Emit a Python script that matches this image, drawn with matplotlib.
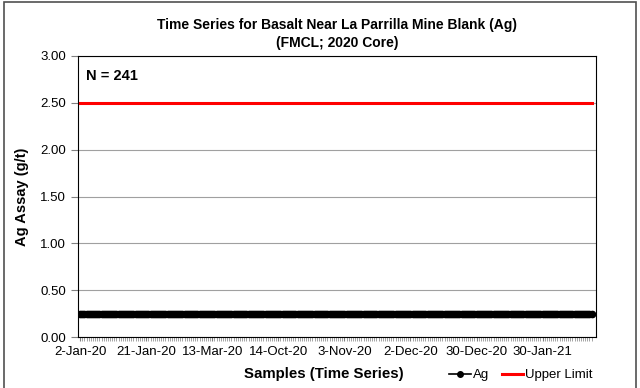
import matplotlib.pyplot as plt
from matplotlib.patches import Rectangle

plt.rcParams['font.family'] = ['Liberation Sans', 'DejaVu Sans']

n_samples = 241
ag_values = [0.25] * n_samples
upper_limit = 2.50
tick_labels = ["2-Jan-20", "21-Jan-20", "13-Mar-20", "14-Oct-20", "3-Nov-20",
               "2-Dec-20", "30-Dec-20", "30-Jan-21"]
tick_step = 31

sample_idx = list(range(n_samples))

fig = plt.figure(figsize=(6.4, 3.88), dpi=100)
ax = fig.add_axes([0.122, 0.131, 0.809, 0.725])

ax.plot(sample_idx, ag_values, color='black', lw=3.5, marker='o', ms=4.5, label='Ag', zorder=3)
ax.plot(sample_idx, [upper_limit] * n_samples, color='#ff0000', lw=2.2, label='Upper Limit', zorder=3)

ax.set_ylim(0, 3.0)
ax.set_yticks([0, 0.5, 1.0, 1.5, 2.0, 2.5, 3.0])
ax.set_yticklabels(["%.2f" % v for v in ax.get_yticks()], fontsize=9.5)
ax.yaxis.grid(True, color='#a0a0a0', lw=0.8)
ax.set_axisbelow(True)
ax.tick_params(axis='y', length=5, color='#808080', direction='out')

ax.set_xlim(-1, n_samples + 1)
ax.set_xticks(sample_idx[::tick_step][:len(tick_labels)])
ax.set_xticklabels(tick_labels, fontsize=9.5)
ax.set_xticks(sample_idx, minor=True)
ax.tick_params(axis='x', which='major', length=3, color='#808080', pad=3)
ax.tick_params(axis='x', which='minor', length=3, color='#808080', width=0.5)

for s in ax.spines.values():
    s.set_color('black')
    s.set_linewidth(0.8)

ax.text(0.015, 0.955, "N = 241", transform=ax.transAxes, fontsize=10.5, fontweight='bold', va='top')
ax.set_ylabel("Ag Assay (g/t)", fontsize=10.5, fontweight='bold', labelpad=8)

fig.text(0.527, 0.913, "Time Series for Basalt Near La Parrilla Mine Blank (Ag)\n(FMCL; 2020 Core)",
         ha='center', va='center', fontsize=10, fontweight='bold', linespacing=1.35)
fig.text(0.506, 0.035, "Samples (Time Series)", ha='center', va='center', fontsize=10.8, fontweight='bold')

leg = fig.legend(loc='center', bbox_to_anchor=(0.814, 0.033), ncol=2, frameon=False, fontsize=9.5,
                 handlelength=1.6, handletextpad=0.15, columnspacing=1.0)
leg.legend_handles[0].set_linewidth(1.2)
leg.legend_handles[0].set_markersize(4)

fig.patches.append(Rectangle((0.006, -0.01), 0.988, 1.005, transform=fig.transFigure,
                             fill=False, edgecolor='#505050', lw=1.2))

fig.savefig("out.png", dpi=100)
